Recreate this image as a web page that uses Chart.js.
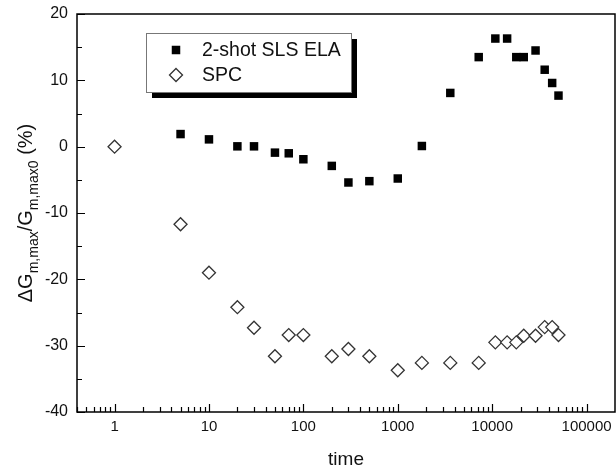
<!DOCTYPE html>
<html>
<head>
<meta charset="utf-8">
<script src="https://cdn.jsdelivr.net/npm/chart.js@4.4.1/dist/chart.umd.min.js"></script>
<style>
html,body{margin:0;padding:0;background:#fff;}
#c{display:block;}
</style>
</head>
<body>
<canvas id="c" width="616" height="473"></canvas>
<script>
// ---- data ----
const times = [1, 5, 10, 20, 30, 50, 70, 100, 200, 300, 500, 1000, 1800, 3600, 7200, 10800, 14400, 18000, 21600, 28800, 36000, 43200, 50400];
const slsEla = [null, 1.9, 1.1, 0.05, 0.05, -0.9, -1.0, -1.9, -2.9, -5.4, -5.2, -4.8, 0.1, 8.1, 13.5, 16.3, 16.3, 13.5, 13.5, 14.5, 11.6, 9.6, 7.7];
const spc = [0, -11.7, -19.0, -24.2, -27.3, -31.6, -28.4, -28.4, -31.6, -30.5, -31.6, -33.7, -32.6, -32.6, -32.6, -29.5, -29.5, -29.5, -28.5, -28.5, -27.2, -27.2, -28.4];
const seriesNames = ['2-shot SLS ELA', 'SPC'];
const xTickValues = [1, 10, 100, 1000, 10000, 100000];
const xTickLabels = ['1', '10', '100', '1000', '10000', '100000'];
const yTickValues = [-40, -30, -20, -10, 0, 10, 20];
const xTitle = 'time';

const FONT = '"Liberation Sans", Arial, Helvetica, sans-serif';

const toPts = (ys) => times.map((t, i) => ({x: t, y: ys[i]})).filter(p => p.y !== null);

const framePlugin = {
  id: 'frame',
  afterDraw(chart) {
    const ctx = chart.ctx;
    const a = chart.chartArea;
    const xs = chart.scales.x, ys = chart.scales.y;
    ctx.save();
    ctx.strokeStyle = '#000';
    ctx.lineWidth = 1.5;
    ctx.strokeRect(a.left, a.top, a.right - a.left, a.bottom - a.top);
    // x ticks (inward)
    ctx.lineWidth = 1.2;
    ctx.beginPath();
    for (let d = -1; d <= 5; d++) {
      for (let m = 1; m <= 9; m++) {
        const v = m * Math.pow(10, d);
        if (v < xs.min || v >= xs.max) continue;
        const px = Math.round(xs.getPixelForValue(v)) + 0.5;
        const len = m === 1 ? 8 : 5;
        ctx.moveTo(px, a.bottom);
        ctx.lineTo(px, a.bottom - len);
      }
    }
    // y ticks (inward)
    for (let v = -40; v <= 20; v += 5) {
      const py = Math.round(ys.getPixelForValue(v)) + 0.5;
      const len = (v % 10 === 0) ? 8 : 5;
      ctx.moveTo(a.left, py);
      ctx.lineTo(a.left + len, py);
    }
    ctx.stroke();

    // x title
    ctx.fillStyle = '#111';
    ctx.font = '19px ' + FONT;
    ctx.textAlign = 'center';
    ctx.textBaseline = 'alphabetic';
    ctx.fillText(xTitle, (a.left + a.right) / 2, 465);

    // y title with subscripts
    const segs = [
      {t: '\u0394G', s: false},
      {t: 'm,max', s: true},
      {t: '/G', s: false},
      {t: 'm,max0', s: true},
      {t: ' (%)', s: false}
    ];
    const mainF = '20px ' + FONT, subF = '14px ' + FONT;
    let total = 0;
    segs.forEach(sg => { ctx.font = sg.s ? subF : mainF; sg.w = ctx.measureText(sg.t).width; total += sg.w; });
    ctx.translate(32, (a.top + a.bottom) / 2);
    ctx.rotate(-Math.PI / 2);
    ctx.textAlign = 'left';
    let xx = -total / 2;
    segs.forEach(sg => {
      ctx.font = sg.s ? subF : mainF;
      ctx.fillText(sg.t, xx, sg.s ? 6 : 0);
      xx += sg.w;
    });
    ctx.restore();

    // legend
    ctx.save();
    const bx = 146, by = 33, bw = 205, bh = 59;
    ctx.fillStyle = '#000';
    ctx.fillRect(bx + 6, by + 6, bw, bh);
    ctx.fillStyle = '#fff';
    ctx.fillRect(bx, by, bw, bh);
    ctx.strokeStyle = '#777';
    ctx.lineWidth = 1;
    ctx.strokeRect(bx + 0.5, by + 0.5, bw, bh);
    // square marker
    ctx.fillStyle = '#000';
    ctx.fillRect(176 - 4.25, 50 - 4.25, 8.5, 8.5);
    // diamond marker
    ctx.beginPath();
    ctx.moveTo(176, 75 - 6.5); ctx.lineTo(176 + 6.5, 75); ctx.lineTo(176, 75 + 6.5); ctx.lineTo(176 - 6.5, 75); ctx.closePath();
    ctx.fillStyle = '#fff'; ctx.fill();
    ctx.strokeStyle = '#333'; ctx.lineWidth = 1.3; ctx.stroke();
    ctx.fillStyle = '#111';
    ctx.font = '19.5px ' + FONT;
    ctx.textAlign = 'left';
    ctx.textBaseline = 'middle';
    ctx.fillText(seriesNames[0], 202, 51);
    ctx.fillText(seriesNames[1], 202, 76);
    ctx.restore();
  }
};

new Chart(document.getElementById('c'), {
  type: 'scatter',
  data: {
    datasets: [
      {
        label: seriesNames[0],
        data: toPts(slsEla),
        pointStyle: 'rect',
        pointRadius: 6,
        pointHoverRadius: 6,
        backgroundColor: '#000',
        borderColor: '#000',
        borderWidth: 0,
        showLine: false
      },
      {
        label: seriesNames[1],
        data: toPts(spc),
        pointStyle: 'rectRot',
        pointRadius: 6.5,
        pointHoverRadius: 6.5,
        backgroundColor: '#fff',
        borderColor: '#333',
        borderWidth: 1.3,
        showLine: false
      }
    ]
  },
  options: {
    responsive: false,
    devicePixelRatio: 1,
    animation: false,
    events: [],
    layout: {autoPadding: false, padding: {left: 0, top: 14, right: 1, bottom: 0}},
    plugins: {legend: {display: false}, tooltip: {enabled: false}},
    scales: {
      x: {
        type: 'logarithmic',
        min: 0.4,
        max: 200000,
        grid: {display: false, drawTicks: true, tickLength: 6},
        border: {display: false},
        afterBuildTicks(scale) { scale.ticks = xTickValues.map(v => ({value: v})); },
        afterFit(scale) { scale.height = 61; },
        ticks: {
          autoSkip: false,
          maxRotation: 0,
          padding: 0,
          color: '#111',
          font: {family: FONT, size: 15},
          callback: (v) => { const i = xTickValues.indexOf(v); return i >= 0 ? xTickLabels[i] : ''; }
        }
      },
      y: {
        type: 'linear',
        min: -40,
        max: 20,
        grid: {display: false, drawTicks: true, tickLength: 9},
        border: {display: false},
        afterBuildTicks(scale) { scale.ticks = yTickValues.map(v => ({value: v})); },
        afterFit(scale) { scale.width = 77; },
        ticks: {
          padding: 0,
          color: '#111',
          font: {family: FONT, size: 16}
        }
      }
    }
  },
  plugins: [framePlugin]
});
</script>
</body>
</html>
